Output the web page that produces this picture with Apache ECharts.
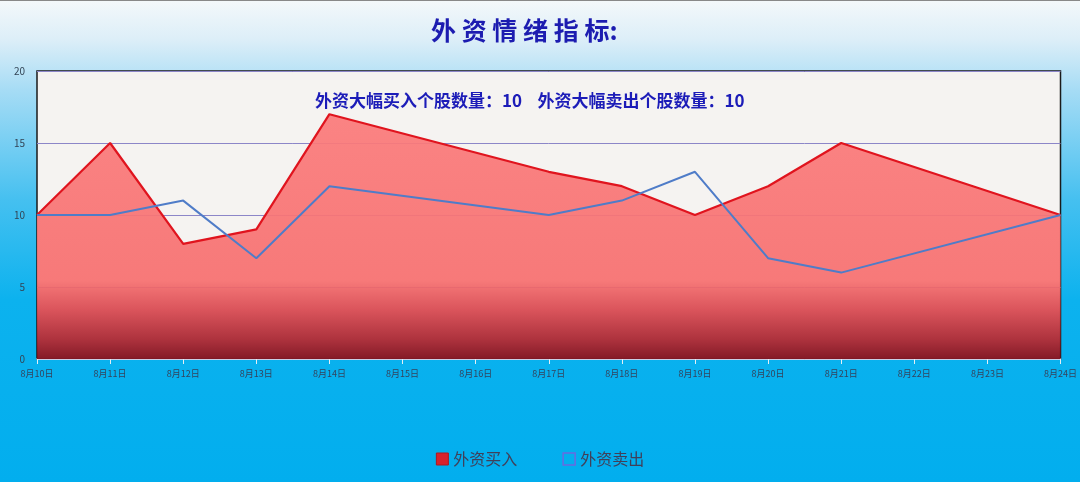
<!DOCTYPE html>
<html><head><meta charset="utf-8">
<script src="https://cdn.jsdelivr.net/npm/echarts@6/dist/echarts.min.js"></script>
<style>
html,body{margin:0;padding:0;width:1080px;height:482px;overflow:hidden;}
body{background:linear-gradient(180deg,#f4f8fa 0px,#dceef8 40px,#a6dcf5 90px,#45c0f0 200px,#0cb2ee 300px,#02aeee 482px);}
#c{width:1080px;height:482px;border-top:1px solid #888;box-sizing:border-box;}
</style></head><body>
<div id="c"></div>
<script>
var categories = ['8月10日','8月11日','8月12日','8月13日','8月14日','8月15日','8月16日','8月17日','8月18日','8月19日','8月20日','8月21日','8月22日','8月23日','8月24日'];
var buyValues  = [10,15,8,9,17,null,null,13,12,10,12,15,null,null,10];
var sellValues = [10,10,11,7,12,null,null,10,11,13,7,6,null,null,10];
var yTicks = [0,5,10,15,20];
var buyCount = 10, sellCount = 10;

var chart = echarts.init(document.getElementById('c'));
var FONT = '"Noto Sans CJK SC", "Noto Sans", sans-serif';
chart.setOption({
  backgroundColor: 'transparent',
  textStyle: {fontFamily: FONT},
  title: [{
    text: '外 资 情 绪 指 标:',
    left: 426, top: 12,
    textStyle: {color: '#1c1cb0', fontSize: 25, fontWeight: 'bold', fontFamily: FONT}
  },{
    text: '外资大幅买入个股数量：' + buyCount + '    外资大幅卖出个股数量：' + sellCount,
    left: 310, top: 86,
    textStyle: {color: '#1c1cb8', fontSize: 17, fontWeight: 'bold', fontFamily: FONT}
  }],
  legend: {
    bottom: 10, left: 'center', itemGap: 45,
    icon: 'rect', itemWidth: 12, itemHeight: 12,
    textStyle: {color: '#40405a', fontSize: 16, fontFamily: FONT},
    data: [
      {name: '外资买入', itemStyle: {color: '#d8222c', borderColor: '#b01820', borderWidth: 1}},
      {name: '外资卖出', itemStyle: {color: 'rgba(0,0,0,0)', borderColor: '#6a6ae0', borderWidth: 1.5}}
    ]
  },
  grid: {left: 37, right: 17, top: 70, bottom: 123, show: true, backgroundColor: '#f5f3f1', borderColor: '#1a1a1a', borderWidth: 1.5},
  xAxis: {
    type: 'category', boundaryGap: false, data: categories,
    axisLine: {show: true, lineStyle: {color: '#dde8f0', width: 1.5}},
    axisTick: {show: true, lineStyle: {color: '#e6eef4'}},
    axisLabel: {color: '#34445e', fontSize: 9, margin: 10, interval: 0}
  },
  yAxis: {
    type: 'value', min: yTicks[0], max: yTicks[yTicks.length-1], interval: 5,
    axisLine: {show: false}, axisTick: {show: false},
    axisLabel: {color: '#334455', fontSize: 10, margin: 12},
    splitLine: {show: true, lineStyle: {color: '#8c86c8', width: 1}}
  },
  series: [{
    name: '外资买入', type: 'line', data: buyValues, connectNulls: true,
    symbol: 'none', z: 2,
    lineStyle: {color: '#e0141e', width: 2.2},
    itemStyle: {color: '#d8222c'},
    areaStyle: {opacity: 0.93, color: new echarts.graphic.LinearGradient(0,0,0,1,[
      {offset: 0, color: '#fb7b7b'},
      {offset: 0.68, color: '#f77070'},
      {offset: 0.8, color: '#d84850'},
      {offset: 0.92, color: '#a82430'},
      {offset: 1, color: '#7c0a18'}
    ])}
  },{
    name: '外资卖出', type: 'line', data: sellValues, connectNulls: true,
    symbol: 'none', z: 3,
    lineStyle: {color: '#4f7cc8', width: 2},
    itemStyle: {color: '#4f7cc8'}
  }]
});
</script>
</body></html>
